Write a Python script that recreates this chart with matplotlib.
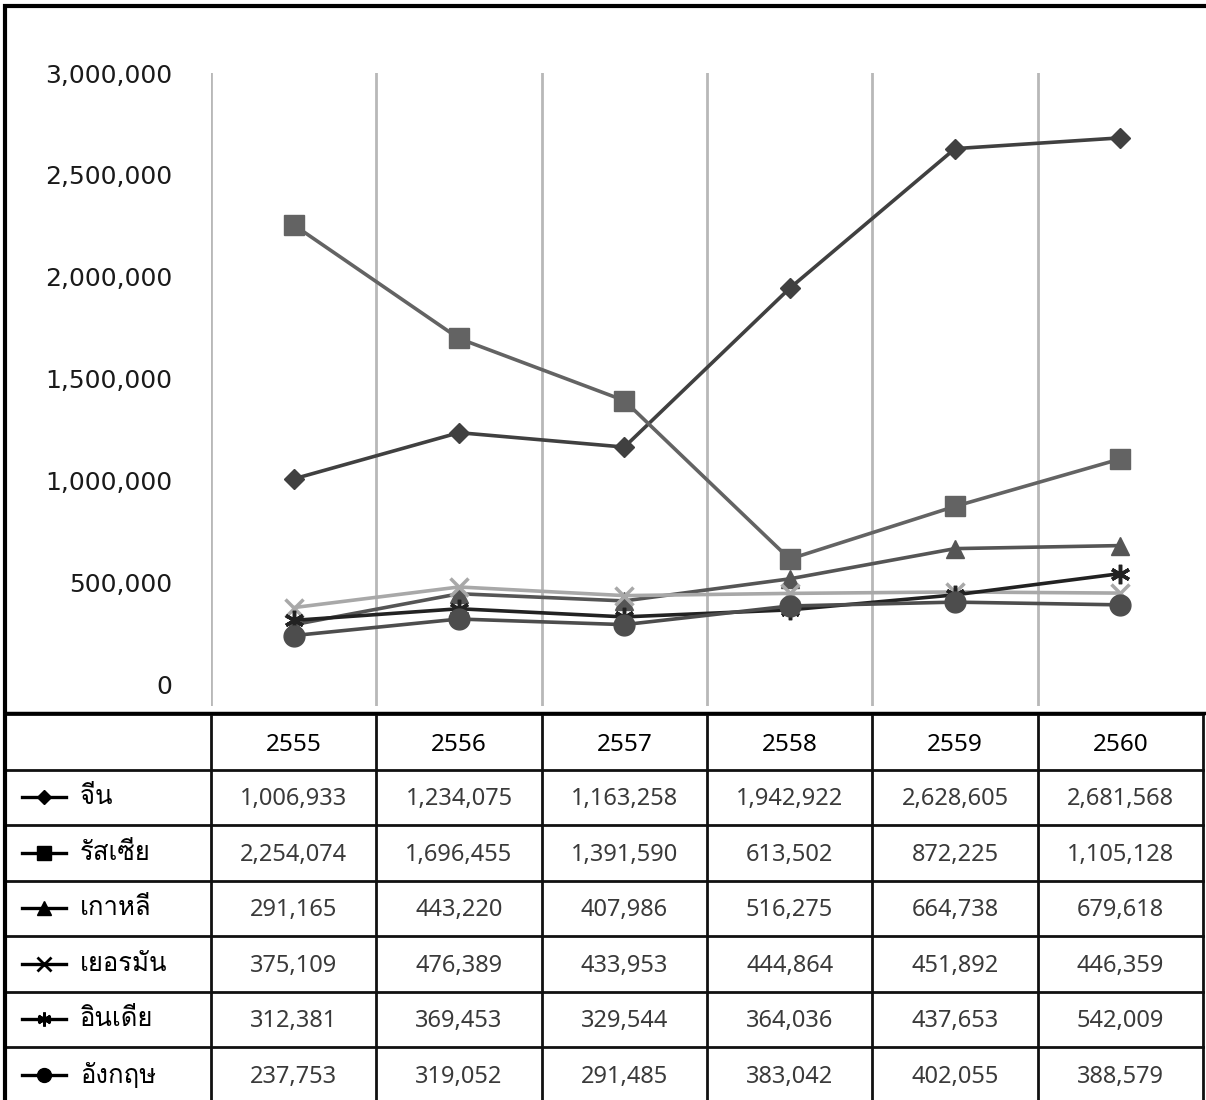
import matplotlib
matplotlib.use("Agg")
import matplotlib.pyplot as plt
from matplotlib import font_manager, ft2font
from matplotlib.lines import Line2D
from matplotlib.patches import Rectangle

# Data ----
years = ["2555", "2556", "2557", "2558", "2559", "2560"]
countries = ["จีน", "รัสเซีย", "เกาหลี", "เยอรมัน", "อินเดีย", "อังกฤษ"]
china = [1006933, 1234075, 1163258, 1942922, 2628605, 2681568]
russia = [2254074, 1696455, 1391590, 613502, 872225, 1105128]
korea = [291165, 443220, 407986, 516275, 664738, 679618]
germany = [375109, 476389, 433953, 444864, 451892, 446359]
india = [312381, 369453, 329544, 364036, 437653, 542009]
england = [237753, 319052, 291485, 383042, 402055, 388579]
series = [china, russia, korea, germany, india, england]
yticks = [0, 500000, 1000000, 1500000, 2000000, 2500000, 3000000]

# styles per series
colors = ["#404040", "#636363", "#555555", "#a8a8a8", "#222222", "#4d4d4d"]
markers = ["D", "s", "^", "x", (6, 2, 0), "o"]
msizes = [10, 15, 13, 13, 14, 15]


def find_thai_font():
    """first installed font that has Thai glyphs, or None"""
    for f in font_manager.fontManager.ttflist:
        try:
            cmap = ft2font.FT2Font(f.fname).get_charmap()
        except Exception:
            continue
        if 0x0E08 in cmap and 0x0E35 in cmap:
            return f.name
    return None


thai = find_thai_font()
thai_family = [thai, "DejaVu Sans"] if thai else ["DejaVu Sans"]

W, H = 1206, 1100
fig = plt.figure(figsize=(W / 100, H / 100), dpi=100)

# layout in pixels
x_left, x_right = 211, 1203
y_top, y_zero, y_bot = 73, 684, 706
tbl_top, row_h = 714, 55.5

# chart ----
ax = fig.add_axes([x_left / W, 1 - y_bot / H, (x_right - x_left) / W, (y_bot - y_top) / H])
per_px = 3000000 / (y_zero - y_top)
ax.set_ylim(-(y_bot - y_zero) * per_px, 3000000)
ax.set_xlim(-0.5, len(years) - 0.5)

for b in range(len(years)):
    ax.axvline(b - 0.5, ymin=0, ymax=1, color="#b8b8b8", lw=2, zorder=1)

xs = list(range(len(years)))
for vals, c, m, ms in zip(series, colors, markers, msizes):
    ax.plot(xs, vals, color=c, lw=2.6, marker=m, markersize=ms,
            markeredgewidth=2.5 if m in ("x", (6, 2, 0)) else 1, zorder=3)

for sp in ax.spines.values():
    sp.set_visible(False)
ax.set_xticks([])
ax.set_yticks(yticks)
ax.set_yticklabels(["{:,}".format(v) for v in yticks], fontsize=18,
                   family="DejaVu Sans", color="#1a1a1a")
ax.tick_params(axis="y", length=0, pad=28)

# table ----
tx = fig.add_axes([0, 0, 1, 1])
tx.set_xlim(0, W)
tx.set_ylim(H, 0)
tx.axis("off")

col_w = (x_right - x_left) / len(years)
bounds = [x_left + i * col_w for i in range(len(years) + 1)]

for i in range(len(countries) + 2):
    y = tbl_top + i * row_h
    tx.plot([5, x_right], [y, y], color="#111111", lw=2)
for b in bounds:
    tx.plot([b, b], [tbl_top, H], color="#111111", lw=2)

for j, yr in enumerate(years):
    tx.text((bounds[j] + bounds[j + 1]) / 2, tbl_top + row_h / 2 + 3, yr,
            ha="center", va="center", fontsize=17.5, family="Noto Sans", color="black")

for i, (name, vals, m) in enumerate(zip(countries, series, markers)):
    yc = tbl_top + (i + 1.5) * row_h
    tx.add_line(Line2D([22, 66], [yc, yc], color="black", lw=2.4))
    tx.add_line(Line2D([44], [yc], color="black", marker=m, markersize=10 if m != "D" else 7,
                       markeredgewidth=2 if m in ("x", (6, 2, 0)) else 1))
    tx.text(80, yc, name, ha="left", va="center", fontsize=18.5, family=thai_family, color="black")
    for j, v in enumerate(vals):
        tx.text((bounds[j] + bounds[j + 1]) / 2, yc + 2, "{:,}".format(v), ha="center",
                va="center", fontsize=17, family="Noto Sans", weight="light", color="#3a3a3a")

# outer frame
fig.patches.append(Rectangle((5 / W, -0.01), 1.1, 1 - 6 / H + 0.01, transform=fig.transFigure,
                             fill=False, ec="black", lw=3))
tx.plot([5, W], [tbl_top - 1, tbl_top - 1], color="black", lw=2.5)

fig.savefig("out.png", dpi=100, facecolor="white")
